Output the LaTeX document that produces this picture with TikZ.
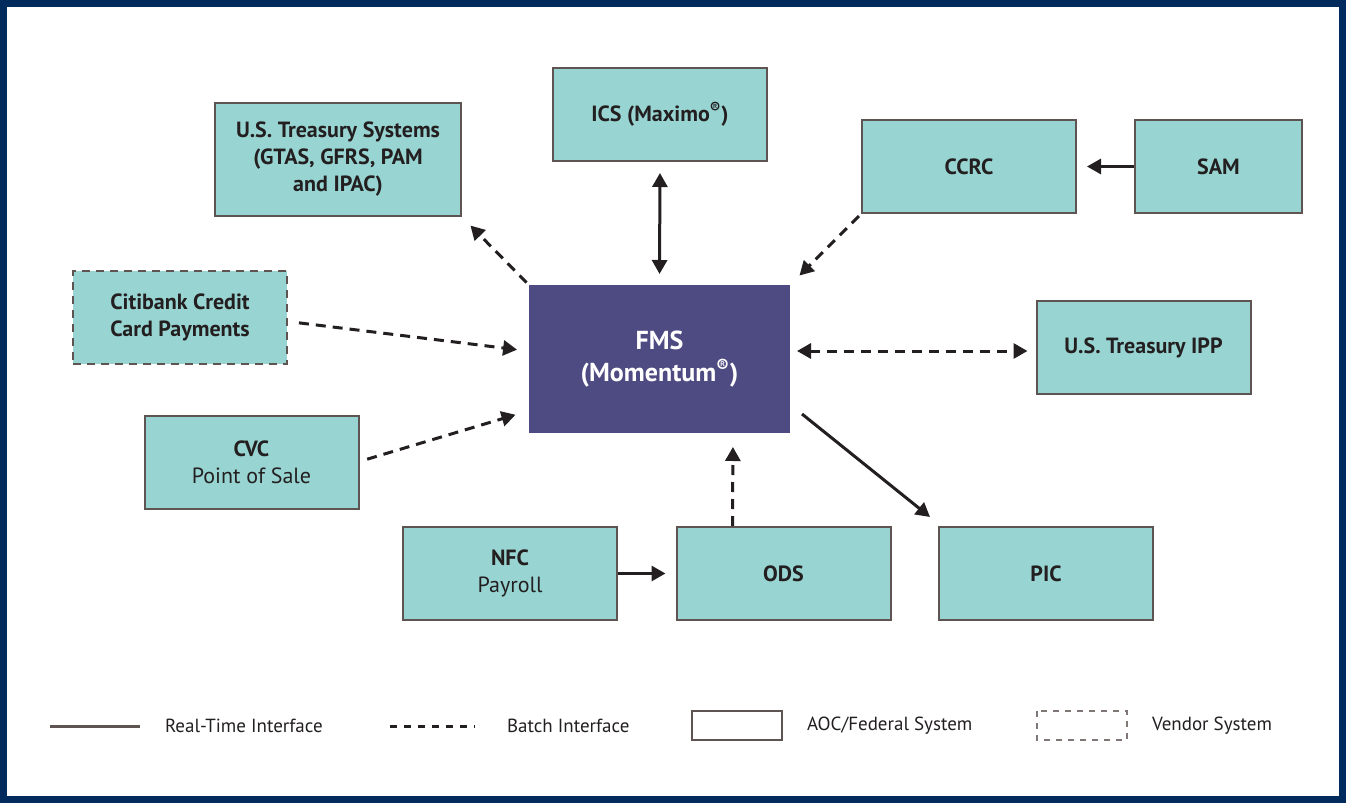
\documentclass[tikz,border=0pt]{standalone}
\usepackage{fontspec}
\setmainfont{PT Sans}
\usetikzlibrary{positioning, arrows.meta, calc}
\definecolor{navy}{HTML}{002B5C}
\definecolor{tealbox}{HTML}{98D5D2}
\definecolor{boxline}{HTML}{5E5552}
\definecolor{fmsblue}{HTML}{4E4A82}
\definecolor{ink}{HTML}{231F20}
\tikzset{
  sys/.style={draw=boxline, line width=1pt, fill=tealbox, text=ink, font=\fontsize{11}{13.5}\selectfont\bfseries, align=center, minimum width=107pt, minimum height=46.5pt, inner sep=2pt},
  vendor/.style={sys, dashed, dash pattern=on 4pt off 3pt},
  realtime/.style={draw=ink, line width=1.5pt, -{Triangle[length=7pt,width=7.5pt]}},
  batch/.style={realtime, dash pattern=on 5pt off 3.5pt},
  legendtxt/.style={anchor=west, text=ink, font=\fontsize{9.5}{11}\selectfont}
}
\begin{document}
\begin{tikzpicture}[x=0.5pt, y=-0.5pt]
\useasboundingbox (0,0) rectangle (1346,803);
\draw[navy, line width=3.5pt] (3.5,3.5) rectangle (1342.5,799.5);
% systems
\node[sys, minimum width=123pt, minimum height=56.5pt] (ust) at (338,159.5) {U.S. Treasury Systems\\(GTAS, GFRS, PAM\\and IPAC)};
\node[sys] (ics) at (660,114.5) {ICS (Maximo\textsuperscript{®})};
\node[sys] (ccrc) at (969,166.5) {CCRC};
\node[sys, minimum width=83.5pt] (sam) at (1218.5,166.5) {SAM};
\node[vendor] (citi) at (180,317.5) {Citibank Credit\\Card Payments};
\node[sys, draw=none, fill=fmsblue, text=white, minimum width=130.5pt, minimum height=74pt, font=\fontsize{13}{16}\selectfont\bfseries] (fms) at (659.5,359) {FMS\\(Momentum\textsuperscript{®})};
\node[sys] (ipp) at (1143.5,347.5) {U.S. Treasury IPP};
\node[sys] (cvc) at (251.5,462.5) {CVC\\\mdseries Point of Sale};
\node[sys] (nfc) at (510,573.5) {NFC\\\mdseries Payroll};
\node[sys] (ods) at (783.5,573.5) {ODS};
\node[sys] (pic) at (1046,573.5) {PIC};
% interfaces
\draw[batch, shorten <=1pt, shorten >=6pt] (fms.north west) -- (ust.south east);
\draw[realtime, {Triangle[length=7pt,width=7.5pt]}-{Triangle[length=7pt,width=7.5pt]}, shorten <=5.5pt, shorten >=5pt] (ics.south) -- (fms.north);
\draw[batch, shorten <=1.5pt, shorten >=6pt] (ccrc.south west) -- (fms.north east);
\draw[realtime, shorten >=5pt] (sam.west) -- (ccrc.east);
\draw[batch, shorten <=5.5pt, shorten >=5.5pt] ($(citi.east)+(0,4)$) -- ($(fms.west)+(0,-8)$);
\draw[batch, {Triangle[length=7pt,width=7.5pt]}-{Triangle[length=7pt,width=7.5pt]}, shorten <=3pt, shorten >=4pt] ($(fms.east)+(0,-8)$) -- ($(ipp.west)+(0,3.5)$);
\draw[batch, shorten <=4pt, shorten >=6.5pt] ($(cvc.east)+(0,-1)$) -- ($(fms.south west)+(0,-23)$);
\draw[realtime] ($(fms.east)+(11,55)$) -- ($(pic.north west)+(-8,-9)$);
\draw[batch, shorten >=6.5pt] ($(ods.north west)+(57,0)$) -- ($(fms.south)+(73.5,0)$);
\draw[realtime, shorten >=5pt] (nfc.east) -- (ods.west);
% legend
\coordinate (rtl) at (50,726);
\draw[boxline, line width=1.5pt] (rtl) -- ++(90,0);
\node[legendtxt] (rtt) at (158,726) {Real-Time Interface};
\coordinate (btl) at (390,726);
\draw[ink, line width=1.5pt, dash pattern=on 3.5pt off 3.5pt] (btl) -- ++(85,0);
\node[legendtxt] (btt) at (500,726) {Batch Interface};
\draw[boxline, line width=0.8pt] (692,711) rectangle (782,740);
\node[legendtxt] (aoct) at (800,726) {AOC/Federal System};
\draw[boxline!80, line width=0.6pt, dash pattern=on 3pt off 3pt] (1037,711) rectangle (1127,740);
\node[legendtxt] (vent) at (1145,726) {Vendor System};
\end{tikzpicture}
\end{document}
